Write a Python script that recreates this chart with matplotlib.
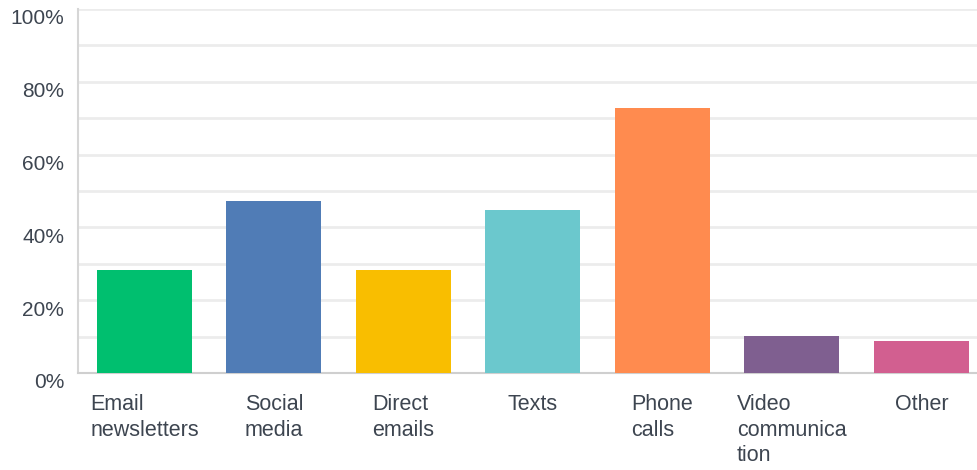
import numpy as np
import matplotlib.pyplot as plt
import matplotlib.transforms as mtransforms

categories = ["Email\nnewsletters", "Social\nmedia", "Direct\nemails", "Texts",
              "Phone\ncalls", "Video\ncommunica\ntion", "Other"]
values = [28.3, 47.3, 28.3, 44.8, 72.8, 10.2, 8.8]
colors = ["#00bf6f", "#507cb6", "#f9be00", "#6bc8cd", "#ff8b4f", "#7f5f90", "#d25f90"]
yticks = [0, 20, 40, 60, 80, 100]

plt.rcParams['font.family'] = ['Liberation Sans', 'DejaVu Sans']
txt = "#3d4550"

fig = plt.figure(figsize=(9.77, 4.70), dpi=100)
ax = fig.add_axes([78/977, 97/470, 1 - 78/977, (373 - 9)/470])

x = np.arange(len(categories))
ax.bar(x, values, width=0.735, color=colors, zorder=3)

ax.set_xlim(-0.513, 6.43)
ax.set_ylim(0, 100)
ax.set_yticks(yticks)
ax.set_yticklabels([f"{v}%" for v in yticks])
ax.set_yticks(np.arange(10, 100, 20), minor=True)
ax.grid(axis='y', which='both', color="#ececec", linewidth=2, zorder=0)
ax.tick_params(axis='y', which='both', length=0, pad=10, labelsize=15, labelcolor=txt)
ax.tick_params(axis='x', length=0)
ax.set_xticks([])

off = mtransforms.ScaledTranslation(0, -8/100, fig.dpi_scale_trans)
for lab in ax.get_yticklabels():
    lab.set_transform(lab.get_transform() + off)

for s in ['top', 'right']:
    ax.spines[s].set_visible(False)
ax.spines['left'].set_color("#d6d6d6")
ax.spines['left'].set_linewidth(1.5)
ax.spines['bottom'].set_color("#cfcfcf")
ax.spines['bottom'].set_linewidth(1.5)

for xi, lab in zip(x, categories):
    ax.annotate(lab, xy=(xi, 0), xycoords=('data', 'axes fraction'),
                xytext=(0, -15), textcoords='offset points',
                ha='center', va='top', multialignment='left',
                fontsize=15.5, color=txt, linespacing=1.3)

fig.savefig("out.png", dpi=100)
